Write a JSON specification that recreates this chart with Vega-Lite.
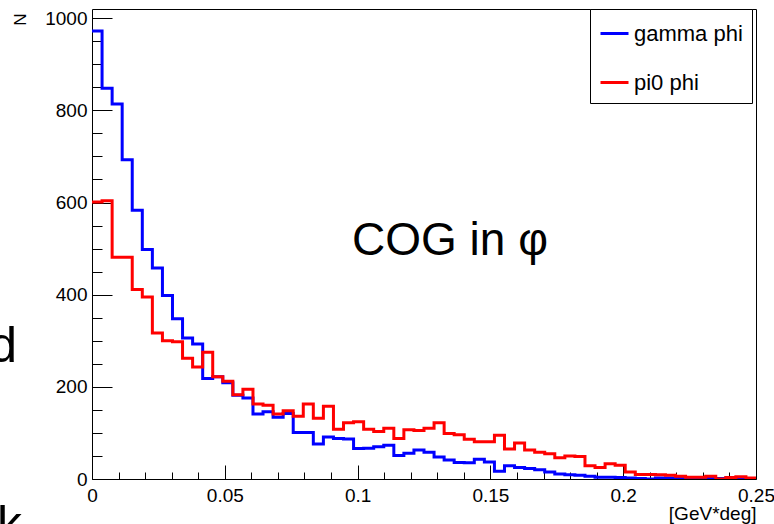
{
  "$schema": "https://vega.github.io/schema/vega-lite/v6.json",
  "width": 664,
  "height": 470,
  "autosize": {"type": "none"},
  "padding": {"left": 92, "top": 9, "right": 18, "bottom": 45},
  "background": "white",
  "config": {"view": {"stroke": "black", "strokeWidth": 1}, "font": "Liberation Sans"},
  "datasets": {
    "hist": [
      {"x":0,"n":972,"s":"gamma phi"},{"x":0.00379,"n":848,"s":"gamma phi"},{"x":0.00758,"n":814,"s":"gamma phi"},{"x":0.01136,"n":693,"s":"gamma phi"},{"x":0.01515,"n":583,"s":"gamma phi"},{"x":0.01894,"n":498,"s":"gamma phi"},{"x":0.02273,"n":458,"s":"gamma phi"},{"x":0.02652,"n":398,"s":"gamma phi"},{"x":0.0303,"n":348,"s":"gamma phi"},{"x":0.03409,"n":306,"s":"gamma phi"},{"x":0.03788,"n":293,"s":"gamma phi"},{"x":0.04167,"n":218,"s":"gamma phi"},{"x":0.04545,"n":222,"s":"gamma phi"},{"x":0.04924,"n":209,"s":"gamma phi"},{"x":0.05303,"n":182,"s":"gamma phi"},{"x":0.05682,"n":176,"s":"gamma phi"},{"x":0.06061,"n":141,"s":"gamma phi"},{"x":0.06439,"n":146,"s":"gamma phi"},{"x":0.06818,"n":134,"s":"gamma phi"},{"x":0.07197,"n":142,"s":"gamma phi"},{"x":0.07576,"n":101,"s":"gamma phi"},{"x":0.07955,"n":101,"s":"gamma phi"},{"x":0.08333,"n":76,"s":"gamma phi"},{"x":0.08712,"n":91,"s":"gamma phi"},{"x":0.09091,"n":88,"s":"gamma phi"},{"x":0.0947,"n":87,"s":"gamma phi"},{"x":0.09848,"n":66,"s":"gamma phi"},{"x":0.10227,"n":67,"s":"gamma phi"},{"x":0.10606,"n":70,"s":"gamma phi"},{"x":0.10985,"n":73,"s":"gamma phi"},{"x":0.11364,"n":51,"s":"gamma phi"},{"x":0.11742,"n":56,"s":"gamma phi"},{"x":0.12121,"n":63,"s":"gamma phi"},{"x":0.125,"n":58,"s":"gamma phi"},{"x":0.12879,"n":48,"s":"gamma phi"},{"x":0.13258,"n":41,"s":"gamma phi"},{"x":0.13636,"n":36,"s":"gamma phi"},{"x":0.14015,"n":35,"s":"gamma phi"},{"x":0.14394,"n":43,"s":"gamma phi"},{"x":0.14773,"n":37,"s":"gamma phi"},{"x":0.15152,"n":17,"s":"gamma phi"},{"x":0.1553,"n":29,"s":"gamma phi"},{"x":0.15909,"n":25,"s":"gamma phi"},{"x":0.16288,"n":23,"s":"gamma phi"},{"x":0.16667,"n":20,"s":"gamma phi"},{"x":0.17045,"n":15,"s":"gamma phi"},{"x":0.17424,"n":11,"s":"gamma phi"},{"x":0.17803,"n":9,"s":"gamma phi"},{"x":0.18182,"n":8,"s":"gamma phi"},{"x":0.18561,"n":6,"s":"gamma phi"},{"x":0.18939,"n":4,"s":"gamma phi"},{"x":0.19318,"n":4,"s":"gamma phi"},{"x":0.19697,"n":3,"s":"gamma phi"},{"x":0.20076,"n":2,"s":"gamma phi"},{"x":0.20455,"n":1,"s":"gamma phi"},{"x":0.20833,"n":0,"s":"gamma phi"},{"x":0.21212,"n":2,"s":"gamma phi"},{"x":0.21591,"n":2,"s":"gamma phi"},{"x":0.2197,"n":2,"s":"gamma phi"},{"x":0.22348,"n":3,"s":"gamma phi"},{"x":0.22727,"n":1,"s":"gamma phi"},{"x":0.23106,"n":1,"s":"gamma phi"},{"x":0.23485,"n":1,"s":"gamma phi"},{"x":0.23864,"n":2,"s":"gamma phi"},{"x":0.24242,"n":1,"s":"gamma phi"},{"x":0.24621,"n":1,"s":"gamma phi"},{"x":0.25,"n":1,"s":"gamma phi"},
      {"x":0,"n":601,"s":"pi0 phi"},{"x":0.00379,"n":604,"s":"pi0 phi"},{"x":0.00758,"n":481,"s":"pi0 phi"},{"x":0.01136,"n":481,"s":"pi0 phi"},{"x":0.01515,"n":411,"s":"pi0 phi"},{"x":0.01894,"n":395,"s":"pi0 phi"},{"x":0.02273,"n":317,"s":"pi0 phi"},{"x":0.02652,"n":300,"s":"pi0 phi"},{"x":0.0303,"n":298,"s":"pi0 phi"},{"x":0.03409,"n":262,"s":"pi0 phi"},{"x":0.03788,"n":243,"s":"pi0 phi"},{"x":0.04167,"n":275,"s":"pi0 phi"},{"x":0.04545,"n":222,"s":"pi0 phi"},{"x":0.04924,"n":212,"s":"pi0 phi"},{"x":0.05303,"n":183,"s":"pi0 phi"},{"x":0.05682,"n":195,"s":"pi0 phi"},{"x":0.06061,"n":163,"s":"pi0 phi"},{"x":0.06439,"n":160,"s":"pi0 phi"},{"x":0.06818,"n":141,"s":"pi0 phi"},{"x":0.07197,"n":148,"s":"pi0 phi"},{"x":0.07576,"n":136,"s":"pi0 phi"},{"x":0.07955,"n":163,"s":"pi0 phi"},{"x":0.08333,"n":132,"s":"pi0 phi"},{"x":0.08712,"n":158,"s":"pi0 phi"},{"x":0.09091,"n":108,"s":"pi0 phi"},{"x":0.0947,"n":122,"s":"pi0 phi"},{"x":0.09848,"n":124,"s":"pi0 phi"},{"x":0.10227,"n":108,"s":"pi0 phi"},{"x":0.10606,"n":103,"s":"pi0 phi"},{"x":0.10985,"n":110,"s":"pi0 phi"},{"x":0.11364,"n":88,"s":"pi0 phi"},{"x":0.11742,"n":107,"s":"pi0 phi"},{"x":0.12121,"n":105,"s":"pi0 phi"},{"x":0.125,"n":110,"s":"pi0 phi"},{"x":0.12879,"n":122,"s":"pi0 phi"},{"x":0.13258,"n":99,"s":"pi0 phi"},{"x":0.13636,"n":96,"s":"pi0 phi"},{"x":0.14015,"n":86,"s":"pi0 phi"},{"x":0.14394,"n":81,"s":"pi0 phi"},{"x":0.14773,"n":81,"s":"pi0 phi"},{"x":0.15152,"n":95,"s":"pi0 phi"},{"x":0.1553,"n":65,"s":"pi0 phi"},{"x":0.15909,"n":78,"s":"pi0 phi"},{"x":0.16288,"n":63,"s":"pi0 phi"},{"x":0.16667,"n":58,"s":"pi0 phi"},{"x":0.17045,"n":55,"s":"pi0 phi"},{"x":0.17424,"n":46,"s":"pi0 phi"},{"x":0.17803,"n":50,"s":"pi0 phi"},{"x":0.18182,"n":49,"s":"pi0 phi"},{"x":0.18561,"n":29,"s":"pi0 phi"},{"x":0.18939,"n":25,"s":"pi0 phi"},{"x":0.19318,"n":33,"s":"pi0 phi"},{"x":0.19697,"n":30,"s":"pi0 phi"},{"x":0.20076,"n":15,"s":"pi0 phi"},{"x":0.20455,"n":10,"s":"pi0 phi"},{"x":0.20833,"n":10,"s":"pi0 phi"},{"x":0.21212,"n":9,"s":"pi0 phi"},{"x":0.21591,"n":8,"s":"pi0 phi"},{"x":0.2197,"n":6,"s":"pi0 phi"},{"x":0.22348,"n":4,"s":"pi0 phi"},{"x":0.22727,"n":4,"s":"pi0 phi"},{"x":0.23106,"n":6,"s":"pi0 phi"},{"x":0.23485,"n":0,"s":"pi0 phi"},{"x":0.23864,"n":3,"s":"pi0 phi"},{"x":0.24242,"n":5,"s":"pi0 phi"},{"x":0.24621,"n":2,"s":"pi0 phi"},{"x":0.25,"n":2,"s":"pi0 phi"}
    ]
  },
  "resolve": {"axis": {"x": "independent", "y": "independent"}},
  "layer": [
    {
      "data": {"name": "hist"},
      "mark": {"type": "line", "interpolate": "step-after", "strokeWidth": 3, "clip": true},
      "encoding": {
        "x": {
          "field": "x", "type": "quantitative",
          "scale": {"domain": [0, 0.25], "nice": false, "zero": false},
          "axis": {
            "orient": "bottom",
            "values": [0, 0.05, 0.1, 0.15, 0.2, 0.25],
            "format": "~g",
            "tickSize": -14,
            "labelPadding": 21,
            "labelFontSize": 19, "labelFont": "Liberation Sans", "labelColor": "black",
            "tickColor": "black", "tickWidth": 1, "domain": false, "grid": false,
            "labelOverlap": false, "labelFlush": false,
            "title": "[GeV*deg]", "titleAnchor": "end", "titleAlign": "right", "titleBaseline": "alphabetic",
            "titleX": 664, "titleY": 40, "titleFontSize": 19, "titleFontWeight": "normal", "titleFont": "Liberation Sans", "titleColor": "black"
          }
        },
        "y": {
          "field": "n", "type": "quantitative",
          "scale": {"domain": [0, 1020], "nice": false, "zero": true},
          "axis": {
            "orient": "left",
            "values": [0, 200, 400, 600, 800, 1000],
            "format": "d",
            "tickSize": -20,
            "labelPadding": 25,
            "labelFontSize": 19, "labelFont": "Liberation Sans", "labelColor": "black",
            "tickColor": "black", "tickWidth": 1, "domain": false, "grid": false,
            "labelOverlap": false, "labelFlush": false,
            "title": "N", "titleAngle": 270, "titleAlign": "right", "titleBaseline": "middle",
            "titleX": -72, "titleY": 4, "titleFontSize": 17, "titleFontWeight": "normal", "titleFont": "Liberation Sans", "titleColor": "black"
          }
        },
        "color": {
          "field": "s", "type": "nominal",
          "scale": {"domain": ["gamma phi", "pi0 phi"], "range": ["#0000ff", "#ff0000"]},
          "legend": {
            "orient": "none", "legendX": 498, "legendY": 0, "title": null,
            "symbolType": "stroke", "symbolStrokeWidth": 3, "symbolSize": 784,
            "labelFontSize": 22, "labelFont": "Liberation Sans", "labelColor": "black",
            "strokeColor": "black", "fillColor": "white", "padding": 9, "rowPadding": 22, "labelOffset": 4
          }
        }
      }
    },
    {
      "data": {"name": "hist"},
      "mark": {"type": "point", "opacity": 0},
      "encoding": {
        "x": {
          "field": "x", "type": "quantitative",
          "scale": {"domain": [0, 0.25], "nice": false, "zero": false},
          "axis": {
            "orient": "bottom",
            "values": [0.01,0.02,0.03,0.04,0.06,0.07,0.08,0.09,0.11,0.12,0.13,0.14,0.16,0.17,0.18,0.19,0.21,0.22,0.23,0.24],
            "labels": false, "tickSize": -7, "tickColor": "black", "tickWidth": 1,
            "domain": false, "grid": false, "title": null
          }
        },
        "y": {
          "field": "n", "type": "quantitative",
          "scale": {"domain": [0, 1020], "nice": false, "zero": true},
          "axis": {
            "orient": "left",
            "values": [50,100,150,250,300,350,450,500,550,650,700,750,850,900,950],
            "labels": false, "tickSize": -10, "tickColor": "black", "tickWidth": 1,
            "domain": false, "grid": false, "title": null
          }
        }
      }
    },
    {
      "data": {"values": [{}]},
      "mark": {"type": "text", "text": "COG in φ", "fontSize": 46, "font": "Liberation Sans", "align": "left", "baseline": "alphabetic", "color": "black"},
      "encoding": {
        "x": {"datum": 0.0979, "type": "quantitative", "scale": {"domain": [0, 0.25], "nice": false, "zero": false}, "axis": null},
        "y": {"datum": 486, "type": "quantitative", "scale": {"domain": [0, 1020], "nice": false, "zero": true}, "axis": null}
      }
    },
    {
      "data": {"values": [{}]},
      "mark": {"type": "text", "text": "d", "fontSize": 50, "font": "Liberation Sans", "align": "right", "baseline": "alphabetic", "color": "black", "clip": false},
      "encoding": {
        "x": {"datum": -0.0282, "type": "quantitative", "scale": {"domain": [0, 0.25], "nice": false, "zero": false}, "axis": null},
        "y": {"datum": 255, "type": "quantitative", "scale": {"domain": [0, 1020], "nice": false, "zero": true}, "axis": null}
      }
    },
    {
      "data": {"values": [{}]},
      "mark": {"type": "text", "text": "k", "fontSize": 50, "font": "Liberation Sans", "align": "left", "baseline": "alphabetic", "color": "black", "clip": false},
      "encoding": {
        "x": {"datum": -0.0358, "type": "quantitative", "scale": {"domain": [0, 0.25], "nice": false, "zero": false}, "axis": null},
        "y": {"datum": -135, "type": "quantitative", "scale": {"domain": [0, 1020], "nice": false, "zero": true}, "axis": null}
      }
    }
  ]
}
